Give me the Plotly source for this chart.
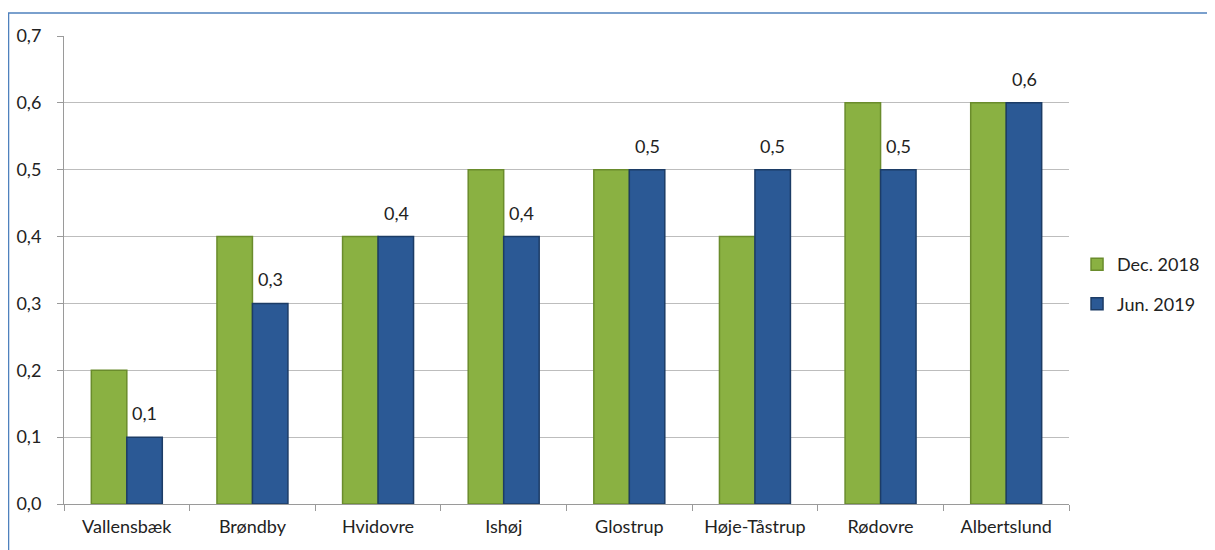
import plotly.graph_objects as go

categories = ["Vallensbæk", "Brøndby", "Hvidovre", "Ishøj", "Glostrup", "Høje-Tåstrup", "Rødovre", "Albertslund"]
dec_2018 = [0.2, 0.4, 0.4, 0.5, 0.5, 0.4, 0.6, 0.6]
jun_2019 = [0.1, 0.3, 0.4, 0.4, 0.5, 0.5, 0.5, 0.6]
series_names = ["Dec. 2018", "Jun. 2019"]
y_ticks = [0, 0.1, 0.2, 0.3, 0.4, 0.5, 0.6, 0.7]

font_family = "Lato, 'Open Sans', sans-serif"

fig = go.Figure()
fig.add_trace(go.Bar(
    x=categories, y=dec_2018, name=series_names[0], legendgroup="a",
    marker=dict(color="#8AB142", line=dict(color="#6A8C2C", width=1.5)),
))
fig.add_trace(go.Bar(
    x=categories, y=jun_2019, name=series_names[1], legendgroup="b",
    marker=dict(color="#2B5995", line=dict(color="#1C3C66", width=1.5)),
))

annotations = [
    dict(x=c, y=v, xref="x", yref="y", text=f"{v:.1f}".replace(".", ","),
         showarrow=False, xshift=18, yshift=11, yanchor="bottom",
         font=dict(size=18, color="#222222", family=font_family))
    for c, v in zip(categories, jun_2019)
]

fig.update_layout(
    width=1215, height=550,
    margin=dict(l=56, r=154, t=28, b=54, autoexpand=False),
    barmode="group", bargap=0.435, bargroupgap=0,
    plot_bgcolor="white", paper_bgcolor="white",
    separators=",.",
    font=dict(family=font_family, size=18, color="#222222"),
    showlegend=True,
    legend=dict(x=1.008, y=0.47, yanchor="middle", xanchor="left",
                font=dict(size=18, color="#222222"), tracegroupgap=13,
                itemwidth=30),
    xaxis=dict(showline=True, linecolor="#9a9a9a", linewidth=1, automargin=False,
               ticks="outside", tickson="boundaries", ticklen=6, tickcolor="#9a9a9a",
               tickfont=dict(size=18), ticklabelstandoff=6),
    yaxis=dict(range=[0, 0.7], tickvals=y_ticks, tickformat=".1f", automargin=False,
               showline=True, linecolor="#9a9a9a", linewidth=1,
               showgrid=True, gridcolor="#BDBDBD", gridwidth=1,
               ticks="outside", ticklen=6, tickcolor="#9a9a9a",
               tickfont=dict(size=18), zeroline=False, ticklabelstandoff=12),
    annotations=annotations,
    shapes=[dict(type="rect", xref="paper", yref="paper",
                 x0=-0.0552, x1=1.4, y0=-0.4, y1=1.049,
                 line=dict(color="#4F81BD", width=1.5), layer="below")],
)

fig.write_html("out.html")
